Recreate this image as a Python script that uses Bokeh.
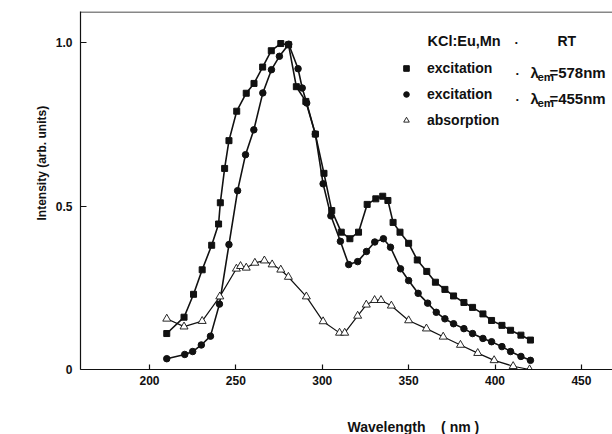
from bokeh.plotting import figure
from bokeh.models import (Range1d, FixedTicker, Label, Span, Legend, LegendItem, Title)
from bokeh.embed import file_html
from bokeh.resources import INLINE

# ---------------- data ----------------
sq_wl = [210, 220, 225.5, 230.5, 236, 240, 241, 243.5, 246, 250.5, 256, 260.5, 265.5,
         270.5, 276, 280.5, 285, 290.5, 296, 301, 305.5, 311, 316, 321, 326, 331, 335,
         338, 341, 345, 350, 355, 360.5, 365.5, 371, 376, 382, 387, 393, 398, 404, 409,
         415, 420.5]
sq_int = [0.11, 0.16, 0.23, 0.305, 0.38, 0.445, 0.51, 0.615, 0.70, 0.79, 0.845, 0.875, 0.925,
          0.975, 0.997, 0.993, 0.865, 0.82, 0.72, 0.60, 0.486, 0.42, 0.40, 0.42, 0.505, 0.522,
          0.53, 0.517, 0.45, 0.42, 0.386, 0.335, 0.30, 0.267, 0.245, 0.225, 0.205, 0.19, 0.17,
          0.15, 0.135, 0.12, 0.105, 0.09]

ci_wl = [210, 220.4, 225, 230, 235.3, 240.5, 246, 251, 255.6, 260.4, 265.6, 270.6, 275.2,
         280.6, 286, 288.4, 291, 296, 300.5, 305, 310.5, 315.3, 320.5, 325.6, 330.4, 335.4,
         339.5, 345.3, 350, 355.5, 361, 366, 371, 376, 382, 387, 393, 398, 404, 409, 415, 420.5]
ci_int = [0.033, 0.046, 0.055, 0.075, 0.102, 0.20, 0.382, 0.547, 0.657, 0.733, 0.846, 0.917,
          0.958, 0.995, 0.92, 0.861, 0.815, 0.72, 0.568, 0.47, 0.392, 0.321, 0.33, 0.361,
          0.39, 0.40, 0.374, 0.308, 0.272, 0.233, 0.203, 0.175, 0.155, 0.14, 0.125, 0.11,
          0.095, 0.085, 0.07, 0.055, 0.04, 0.028]

tr_wl = [210, 220, 230.5, 240.7, 250.3, 252.7, 256, 261, 266.5, 271, 276, 280.4, 290.8,
         300.5, 310, 313, 320.5, 325.5, 330.3, 334, 340, 350, 360.3, 370, 380, 390, 399.5,
         410.5, 420]
tr_int = [0.155, 0.131, 0.148, 0.223, 0.308, 0.316, 0.311, 0.326, 0.333, 0.321, 0.305, 0.283,
          0.223, 0.147, 0.112, 0.112, 0.164, 0.198, 0.212, 0.212, 0.195, 0.15, 0.125, 0.10,
          0.075, 0.05, 0.028, 0.01, 0.0]

x_ticks = [200, 250, 300, 350, 400, 450]
y_ticks = [0, 0.5, 1.0]
y_tick_labels = ["0", "0.5", "1.0"]

legend_labels = ["excitation", "excitation", "absorption"]
title_text = "KCl:Eu,Mn"
cond_text = "RT"
em_values = ["=578nm", "=455nm"]
x_label = "Wavelength\u00a0\u00a0\u00a0\u00a0( nm )"
y_label = "Intensity (arb. units)"

# ---------------- figure ----------------
FONT = "Liberation Sans"
INK = "#111111"
X0, X1 = 160.07, 468.0
Y0, Y1 = 0.0, 1.095

p = figure(width=612, height=434, output_backend="svg", toolbar_location=None,
           x_range=Range1d(X0, X1), y_range=Range1d(Y0, Y1),
           min_border_left=80, min_border_right=0, min_border_top=11, min_border_bottom=65)
p.outline_line_color = None
p.xgrid.visible = False
p.ygrid.visible = False
p.background_fill_color = "white"
p.border_fill_color = "white"

for ax in (p.xaxis[0], p.yaxis[0]):
    ax.axis_line_color = INK
    ax.axis_line_width = 1.2
    ax.major_tick_line_color = INK
    ax.major_tick_line_width = 1.2
    ax.minor_tick_line_color = None
    ax.major_tick_out = 0
    ax.major_label_text_font = FONT
    ax.major_label_text_font_style = "bold"
    ax.major_label_text_font_size = "12px"
    ax.major_label_text_color = INK

p.xaxis.ticker = FixedTicker(ticks=x_ticks)
p.xaxis.major_tick_in = 5
p.xaxis.major_label_standoff = 6
p.yaxis.ticker = FixedTicker(ticks=y_ticks)
p.yaxis.major_label_overrides = {t: s for t, s in zip(y_ticks, y_tick_labels)}
p.yaxis.major_tick_in = 6
p.yaxis.major_label_standoff = 8

# blank axis label used only as vertical spacing for the off-centre x title below
p.xaxis.axis_label = "\u00a0"
p.xaxis.axis_label_text_font_size = "10px"
p.xaxis.axis_label_standoff = 15

p.add_layout(Span(location=1.0935, dimension="width", line_color=INK, line_width=1.2))

p.add_layout(Title(text=x_label, align="left", offset=267, standoff=0,
                   text_font=FONT, text_font_style="bold", text_font_size="14px",
                   text_color=INK), "below")
p.add_layout(Title(text=y_label, align="left", offset=149, standoff=8,
                   text_font=FONT, text_font_style="bold", text_font_size="12px",
                   text_color=INK), "left")

# ---------------- series ----------------
p.line(sq_wl, sq_int, line_color=INK, line_width=1.6)
p.line(ci_wl, ci_int, line_color=INK, line_width=1.6)
p.line(tr_wl, tr_int, line_color=INK, line_width=1.2)
r_sq = p.scatter(sq_wl, sq_int, marker="square", size=6, fill_color=INK, line_color=INK)
r_ci = p.scatter(ci_wl, ci_int, marker="circle", size=6.5, fill_color=INK, line_color=INK)
r_tr = p.scatter(tr_wl, tr_int, marker="triangle", size=8, fill_color="white",
                 line_color=INK, line_width=0.9)

legend = Legend(items=[LegendItem(label=legend_labels[0], renderers=[r_sq]),
                       LegendItem(label=legend_labels[1], renderers=[r_ci]),
                       LegendItem(label=legend_labels[2], renderers=[r_tr])],
                location=(319, 241), glyph_width=14, glyph_height=14, label_height=14,
                label_standoff=14, spacing=10, padding=0, margin=0,
                border_line_color=None, background_fill_alpha=0,
                label_text_font=FONT, label_text_font_style="bold",
                label_text_font_size="14px", label_text_color=INK)
p.add_layout(legend)


def px_x(px):
    return X0 + (px - 80) / 1.728


def px_y(py):
    return (369 - py) / 327.0


def add_text(txt, px, py, size="13px", align="left", angle=0.0):
    p.add_layout(Label(x=px_x(px), y=px_y(py), text=txt, text_font=FONT,
                       text_font_style="bold", text_font_size=size, text_color=INK,
                       text_align=align, text_baseline="middle", angle=angle))


add_text(title_text, 427, 40, size="14.5px")
add_text("·", 514, 42)
add_text(cond_text, 557, 40, size="14px")
for i, (row_y, val) in enumerate(zip([72, 98], em_values)):
    add_text("·", 515, row_y + 1)
    add_text("λ", 530, row_y, size="15px")
    add_text("em", 537, row_y + 4, size="11.5px")
    add_text(val, 549, row_y, size="15px")

open("out.html", "w").write(file_html(p, INLINE))
